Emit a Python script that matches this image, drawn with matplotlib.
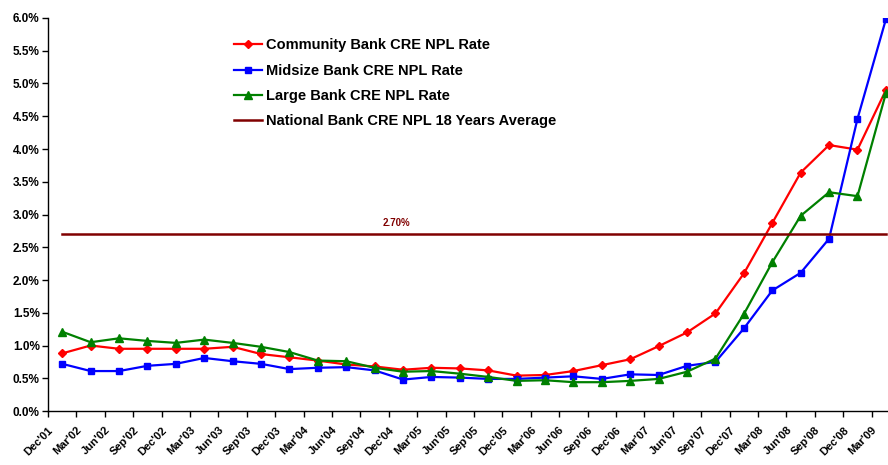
import matplotlib
matplotlib.use("Agg")
import matplotlib.pyplot as plt
from matplotlib.ticker import FuncFormatter
import numpy as np

plt.rcParams['font.family'] = ['Liberation Sans', 'DejaVu Sans']
plt.rcParams['font.weight'] = 'bold'

# quarters Dec'01 .. Mar'09
quarters = ["Dec'01", "Mar'02", "Jun'02", "Sep'02", "Dec'02", "Mar'03", "Jun'03", "Sep'03",
            "Dec'03", "Mar'04", "Jun'04", "Sep'04", "Dec'04", "Mar'05", "Jun'05", "Sep'05",
            "Dec'05", "Mar'06", "Jun'06", "Sep'06", "Dec'06", "Mar'07", "Jun'07", "Sep'07",
            "Dec'07", "Mar'08", "Jun'08", "Sep'08", "Dec'08", "Mar'09"]

community = [0.88, 1.00, 0.95, 0.95, 0.95, 0.95, 0.98, 0.87, 0.82, 0.77, 0.71, 0.68, 0.63, 0.66, 0.65,
             0.62, 0.54, 0.55, 0.61, 0.70, 0.79, 0.99, 1.20, 1.49, 2.10, 2.87, 3.64, 4.06, 3.99, 4.90]
midsize = [0.72, 0.61, 0.61, 0.69, 0.72, 0.81, 0.76, 0.72, 0.64, 0.66, 0.67, 0.62, 0.48, 0.52, 0.51,
           0.49, 0.49, 0.51, 0.53, 0.49, 0.56, 0.55, 0.69, 0.75, 1.26, 1.84, 2.11, 2.63, 4.46, 5.98]
large = [1.21, 1.05, 1.11, 1.07, 1.04, 1.09, 1.04, 0.98, 0.90, 0.77, 0.76, 0.66, 0.60, 0.61, 0.57,
         0.52, 0.46, 0.47, 0.44, 0.44, 0.46, 0.49, 0.60, 0.80, 1.48, 2.27, 2.98, 3.34, 3.28, 4.85]
national_avg = 2.70

x = np.arange(len(quarters))

fig = plt.figure(figsize=(8.88, 4.65), dpi=100)
ax = fig.add_axes([0.0541, 0.1161, 0.9595, 0.8452])

ax.plot(x, community, color='#FF0000', lw=1.6, marker='D', ms=4.5, label='Community Bank CRE NPL Rate')
ax.plot(x, midsize, color='#0000FF', lw=1.6, marker='s', ms=5, label='Midsize Bank CRE NPL Rate')
ax.plot(x, large, color='#008000', lw=1.6, marker='^', ms=5.5, label='Large Bank CRE NPL Rate')
ax.plot([x[0], x[-1]], [national_avg, national_avg], color='#800000', lw=1.8,
        label='National Bank CRE NPL 18 Years Average')
ax.annotate('%.2f%%' % national_avg, xy=(11.75, national_avg), xytext=(0, 8), textcoords='offset points',
            ha='center', va='center', fontsize=7, color='#800000', fontweight='bold')

ax.set_xlim(-0.5, len(quarters) - 0.5)
ax.set_ylim(0, 6.0)
ax.set_yticks(np.arange(0, 6.01, 0.5))
ax.yaxis.set_major_formatter(FuncFormatter(lambda v, p: '%.1f%%' % v))
ax.set_xticks(x - 0.5)
ax.set_xticklabels(quarters, rotation=45, ha='right', va='top', rotation_mode='anchor')

for s in ['top', 'right']:
    ax.spines[s].set_visible(False)
for s in ['left', 'bottom']:
    ax.spines[s].set_linewidth(1.0)
ax.tick_params(axis='x', direction='out', length=4, width=1, labelsize=8, pad=6)
ax.tick_params(axis='y', direction='out', length=4, width=1, labelsize=8.5, pad=2)

ax.legend(loc='upper left', bbox_to_anchor=(0.257, 0.93), bbox_transform=fig.transFigure,
          frameon=False, fontsize=10.5, handlelength=1.9, handletextpad=0.3, labelspacing=0.77,
          borderaxespad=0)

fig.savefig('out.png', dpi=100)
